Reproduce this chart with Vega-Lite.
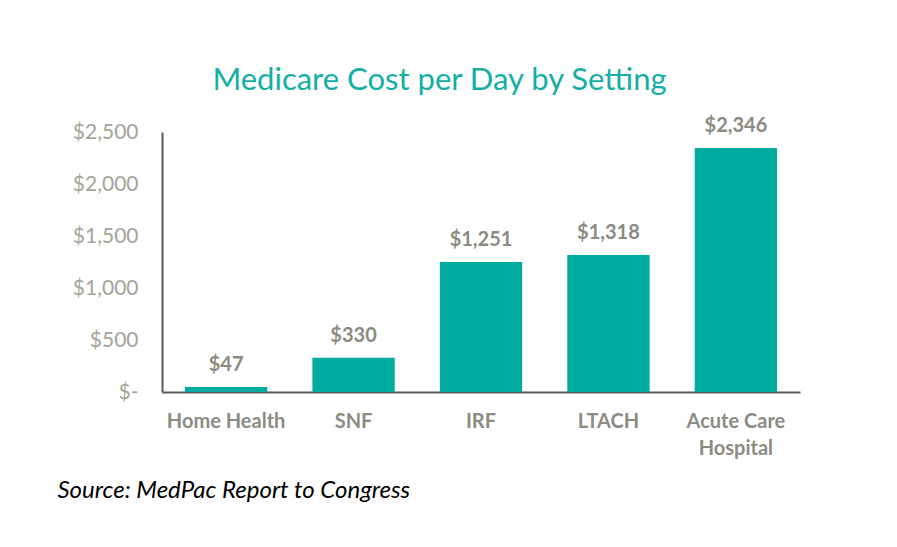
{
  "$schema": "https://vega.github.io/schema/vega-lite/v6.json",
  "width": 638,
  "height": 260,
  "autosize": {"type": "none"},
  "padding": {"left": 162, "top": 132, "right": 97, "bottom": 155},
  "background": "white",
  "title": {
    "text": "Medicare Cost per Day by Setting",
    "font": "Lato",
    "fontSize": 31,
    "fontWeight": "normal",
    "color": "#13AFA5",
    "anchor": "middle",
    "frame": "bounds",
    "baseline": "alphabetic",
    "offset": 22,
    "dy": 27,
    "dx": 11
  },
  "data": {
    "values": [
      {"setting": "Home Health", "cost": 47},
      {"setting": "SNF", "cost": 330},
      {"setting": "IRF", "cost": 1251},
      {"setting": "LTACH", "cost": 1318},
      {"setting": "Acute Care Hospital", "cost": 2346}
    ]
  },
  "config": {"view": {"stroke": null}},
  "encoding": {
    "x": {
      "field": "setting",
      "type": "nominal",
      "sort": null,
      "scale": {"paddingInner": 0.354, "paddingOuter": 0.18},
      "axis": {
        "title": "Source: MedPac Report to Congress",
        "titleFont": "Lato",
        "titleFontSize": 24,
        "titleFontStyle": "italic",
        "titleFontWeight": "normal",
        "titleColor": "#000000",
        "titleAnchor": "start",
        "titleAlign": "left",
        "titleBaseline": "alphabetic",
        "titleX": -105,
        "titleY": 105,
        "labelAngle": 0,
        "labelFont": "Lato",
        "labelFontSize": 20,
        "labelFontWeight": "bold",
        "labelColor": "#8B8B7F",
        "labelPadding": 19,
        "labelLineHeight": 27,
        "labelExpr": "datum.label == 'Acute Care Hospital' ? ['Acute Care', 'Hospital'] : datum.label",
        "ticks": false,
        "domainColor": "#595959",
        "domainWidth": 2
      }
    },
    "y": {
      "field": "cost",
      "type": "quantitative",
      "scale": {"domain": [0, 2500], "nice": false},
      "axis": {
        "title": null,
        "values": [0, 500, 1000, 1500, 2000, 2500],
        "labelExpr": "datum.value == 0 ? '$-' : '$' + format(datum.value, ',')",
        "labelFont": "Lato",
        "labelFontSize": 21,
        "labelColor": "#A4A497",
        "labelPadding": 24,
        "ticks": false,
        "grid": false,
        "domainColor": "#595959",
        "domainWidth": 2
      }
    }
  },
  "layer": [
    {"mark": {"type": "bar", "color": "#00AC9F"}},
    {
      "mark": {
        "type": "text",
        "baseline": "bottom",
        "dy": -12,
        "font": "Lato",
        "fontSize": 20,
        "fontWeight": "bold",
        "color": "#8B8B7F"
      },
      "encoding": {
        "text": {"field": "cost", "type": "quantitative", "format": "$,"}
      }
    }
  ]
}
